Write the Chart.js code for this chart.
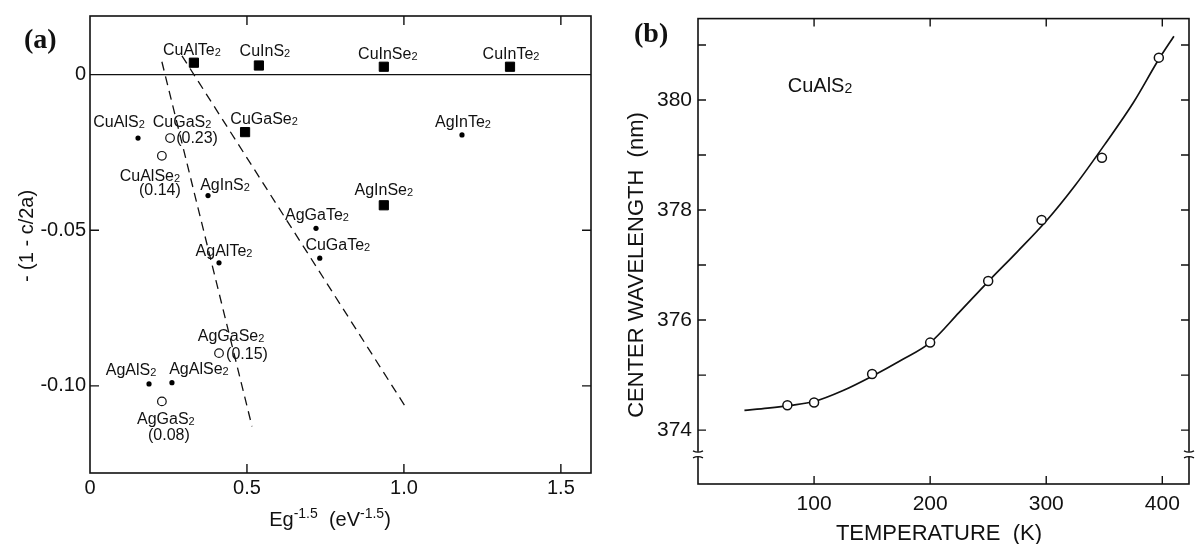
<!DOCTYPE html>
<html lang="en">
<head>
    <meta charset="UTF-8">
    <title>Tetragonal distortion and CuAlS2 wavelength</title>
    <script src="https://cdn.jsdelivr.net/npm/chart.js"></script>
    <style>
        * { box-sizing: border-box; margin: 0; padding: 0; }
        html, body { width: 1195px; height: 544px; overflow: hidden; background: #fff; }
        .panel { position: absolute; top: 0; height: 544px; }
        #panelA { left: 0; width: 600px; }
        #panelB { left: 600px; width: 595px; }
    </style>
</head>
<body>

<div class="panel" id="panelA"><canvas id="chartA"></canvas></div>
<div class="panel" id="panelB"><canvas id="chartB"></canvas></div>

<script>
    // ---- panel (a): -(1 - c/2a) against Eg^-1.5 ----
    const squareNames = ['CuAlTe2', 'CuInS2', 'CuInSe2', 'CuInTe2', 'CuGaSe2', 'AgInSe2'];
    const squareX = [0.331, 0.538, 0.936, 1.338, 0.494, 0.936];
    const squareY = [0.0038, 0.0029, 0.0025, 0.0025, -0.0185, -0.042];

    const dotNames = ['CuAlS2', 'AgInS2', 'AgInTe2', 'AgGaTe2', 'CuGaTe2', 'AgAlTe2', 'AgAlS2', 'AgAlSe2'];
    const dotX = [0.153, 0.376, 1.185, 0.720, 0.732, 0.411, 0.188, 0.261];
    const dotY = [-0.0204, -0.0389, -0.0194, -0.0494, -0.059, -0.0605, -0.0994, -0.099];

    const circleNames = ['CuGaS2', 'CuAlSe2', 'AgGaSe2', 'AgGaS2'];
    const circleX = [0.255, 0.229, 0.411, 0.229];
    const circleY = [-0.0204, -0.0261, -0.0895, -0.105];
    const circleValues = ['0.23', '0.14', '0.15', '0.08'];

    const dashLeftX = [0.229, 0.516];
    const dashLeftY = [0.0041, -0.113];
    const dashRightX = [0.293, 1.003];
    const dashRightY = [0.006, -0.1064];

    const aTickX = [0, 0.5, 1.0, 1.5];
    const aTickXLabels = ['0', '0.5', '1.0', '1.5'];
    const aTickY = [0, -0.05, -0.10];
    const aTickYLabels = ['0', '-0.05', '-0.10'];

    // ---- panel (b): CuAlS2 centre wavelength against temperature ----
    const tempK = [77, 100, 150, 200, 250, 296, 348, 397];
    const wavelength = [374.45, 374.50, 375.02, 375.59, 376.71, 377.82, 378.95, 380.77];
    const fitK = [40, 60, 80, 100, 125, 150, 175, 200, 225, 250, 275, 300, 325, 350, 375, 397, 410];
    const fitNm = [374.36, 374.40, 374.45, 374.52, 374.72, 374.98, 375.27, 375.59, 376.14, 376.70, 377.24, 377.80, 378.45, 379.18, 379.95, 380.74, 381.16];

    const bTickX = [100, 200, 300, 400];
    const bTickY = [374, 376, 378, 380];
    const bMinorY = [375, 377, 379, 381];

    // label placement (pixel offsets from the marker)
    const squareOffsets = [[-2, -13], [6, -15], [4, -14], [1, -14], [19, -14], [0, -16]];
    const dotOffsets = [[-19, -17], [17, -11], [1, -14], [1, -14], [18, -14], [5, -13], [-18, -15], [27, -14]];
    const circleOffsets = [[12, -17], [-12, 19], [12, -18], [4, 17]];
    const valueOffsets = [[27, 1], [-2, 35], [28, 1], [7, 34]];

    const SANS = '"Liberation Sans", Arial, Helvetica, sans-serif';
    const SERIF = '"Liberation Serif", "Times New Roman", serif';
    const INK = '#111';

    Chart.defaults.font.family = SANS;
    Chart.defaults.color = INK;

    const pts = (xs, ys) => xs.map((v, i) => ({ x: v, y: ys[i] }));

    // chemical formula with the trailing digit as a small subscript, centred on (cx, cy)
    function drawFormula(ctx, text, cx, cy, size) {
        const m = text.match(/^(.*?)(\d)$/);
        const base = m ? m[1] : text;
        const sub = m ? m[2] : '';
        const subSize = Math.round(size * 0.68);
        ctx.font = size + 'px ' + SANS;
        const wb = ctx.measureText(base).width;
        ctx.font = subSize + 'px ' + SANS;
        const ws = ctx.measureText(sub).width;
        const x0 = cx - (wb + ws) / 2;
        const baseY = cy + size * 0.36;
        ctx.textAlign = 'left';
        ctx.textBaseline = 'alphabetic';
        ctx.font = size + 'px ' + SANS;
        ctx.fillText(base, x0, baseY);
        ctx.font = subSize + 'px ' + SANS;
        ctx.fillText(sub, x0 + wb, baseY + 1);
    }

    // runs of [text, size, raise] laid out from the centre x
    function drawRuns(ctx, runs, cx, baseline) {
        let w = 0;
        runs.forEach(r => { ctx.font = r[1] + 'px ' + SANS; w += ctx.measureText(r[0]).width; });
        let x = cx - w / 2;
        ctx.textAlign = 'left';
        ctx.textBaseline = 'alphabetic';
        runs.forEach(r => {
            ctx.font = r[1] + 'px ' + SANS;
            ctx.fillText(r[0], x, baseline - r[2]);
            x += ctx.measureText(r[0]).width;
        });
    }

    function drawRotated(ctx, text, cx, cy, size) {
        ctx.save();
        ctx.translate(cx, cy);
        ctx.rotate(-Math.PI / 2);
        ctx.font = size + 'px ' + SANS;
        ctx.textAlign = 'center';
        ctx.textBaseline = 'middle';
        ctx.fillText(text, 0, 0);
        ctx.restore();
    }

    // box, inward ticks, axis break and the text of each panel
    const framePlugin = {
        id: 'frame',
        afterDraw(chart, args, o) {
            const ctx = chart.ctx;
            const a = chart.chartArea;
            const x = chart.scales.x, y = chart.scales.y;
            ctx.save();
            ctx.strokeStyle = INK;
            ctx.fillStyle = INK;

            if (o.zeroLine) {
                const py = y.getPixelForValue(0);
                ctx.lineWidth = 1.3;
                ctx.beginPath();
                ctx.moveTo(a.left, py);
                ctx.lineTo(a.right, py);
                ctx.stroke();
            }

            ctx.lineWidth = 1.6;
            ctx.strokeRect(a.left, a.top, a.right - a.left, a.bottom - a.top);

            ctx.lineWidth = 1.4;
            ctx.beginPath();
            o.xTicks.forEach(v => {
                const px = x.getPixelForValue(v);
                ctx.moveTo(px, a.bottom); ctx.lineTo(px, a.bottom - o.tick);
                ctx.moveTo(px, a.top); ctx.lineTo(px, a.top + o.tick);
            });
            o.yTicks.forEach(v => {
                const py = y.getPixelForValue(v);
                ctx.moveTo(a.left, py); ctx.lineTo(a.left + o.tick, py);
                ctx.moveTo(a.right, py); ctx.lineTo(a.right - o.tick, py);
            });
            ctx.stroke();

            if (o.breakAt !== undefined) {
                const py = y.getPixelForValue(o.breakAt);
                [a.left, a.right].forEach(px => {
                    ctx.fillStyle = '#fff';
                    ctx.fillRect(px - 2, py - 2.5, 4, 5);
                    ctx.fillStyle = INK;
                    ctx.lineWidth = 1.3;
                    ctx.beginPath();
                    ctx.moveTo(px - 5, py - 3.5);
                    ctx.quadraticCurveTo(px, py - 1, px + 5, py - 3.5);
                    ctx.moveTo(px - 5, py + 3.5);
                    ctx.quadraticCurveTo(px, py + 1, px + 5, py + 3.5);
                    ctx.stroke();
                });
            }

            if (o.draw) o.draw(ctx, chart, x, y);
            ctx.restore();
        }
    };

    function labelGroup(ctx, x, y, names, xs, ys, offs) {
        names.forEach((n, i) => {
            drawFormula(ctx, n, x.getPixelForValue(xs[i]) + offs[i][0], y.getPixelForValue(ys[i]) + offs[i][1], 16);
        });
    }

    new Chart(document.getElementById('chartA'), {
        type: 'scatter',
        data: {
            datasets: [
                { data: pts(squareX, squareY), pointStyle: 'rect', pointRadius: 6.5, backgroundColor: '#000', borderColor: '#000', borderWidth: 1 },
                { data: pts(dotX, dotY), pointStyle: 'circle', pointRadius: 2.6, backgroundColor: '#000', borderColor: '#000', borderWidth: 0 },
                { data: pts(circleX, circleY), pointStyle: 'circle', pointRadius: 4.3, backgroundColor: '#fff', borderColor: INK, borderWidth: 1.2 },
                { data: pts(dashLeftX, dashLeftY), showLine: true, pointRadius: 0, borderColor: INK, borderWidth: 1.3, borderDash: [9, 6] },
                { data: pts(dashRightX, dashRightY), showLine: true, pointRadius: 0, borderColor: INK, borderWidth: 1.3, borderDash: [9, 6] }
            ]
        },
        options: {
            responsive: true,
            maintainAspectRatio: false,
            animation: false,
            events: [],
            layout: { padding: { top: 12, right: 9, left: 0, bottom: 0 } },
            plugins: {
                legend: { display: false },
                tooltip: { enabled: false },
                frame: {
                    tick: 9,
                    zeroLine: true,
                    xTicks: aTickX.slice(1),
                    yTicks: aTickY.slice(1),
                    draw(ctx, chart, x, y) {
                        labelGroup(ctx, x, y, squareNames, squareX, squareY, squareOffsets);
                        labelGroup(ctx, x, y, dotNames, dotX, dotY, dotOffsets);
                        labelGroup(ctx, x, y, circleNames, circleX, circleY, circleOffsets);
                        ctx.font = '16px ' + SANS;
                        ctx.textAlign = 'center';
                        ctx.textBaseline = 'middle';
                        circleValues.forEach((v, i) => {
                            ctx.fillText('(' + v + ')', x.getPixelForValue(circleX[i]) + valueOffsets[i][0], y.getPixelForValue(circleY[i]) + valueOffsets[i][1]);
                        });
                        ctx.font = 'bold 28px ' + SERIF;
                        ctx.textAlign = 'left';
                        ctx.textBaseline = 'alphabetic';
                        ctx.fillText('(a)', 24, 48);
                        drawRotated(ctx, '- (1 - c/2a)', 27, 236, 20);
                        drawRuns(ctx, [['Eg', 20, 0], ['-1.5', 14, 8], ['  (eV', 20, 0], ['-1.5', 14, 8], [')', 20, 0]], 330, 526);
                    }
                }
            },
            scales: {
                x: {
                    type: 'linear',
                    min: 0,
                    max: 1.596,
                    grid: { display: false, drawTicks: false },
                    border: { display: false },
                    afterBuildTicks: s => { s.ticks = aTickX.map(v => ({ value: v })); },
                    afterFit: s => { s.height = 71; },
                    ticks: {
                        autoSkip: false,
                        maxRotation: 0,
                        padding: 3,
                        font: { size: 20 },
                        callback: (v, i) => aTickXLabels[i]
                    }
                },
                y: {
                    type: 'linear',
                    min: -0.128,
                    max: 0.0188,
                    grid: { display: false, drawTicks: false },
                    border: { display: false },
                    afterBuildTicks: s => { s.ticks = aTickY.map(v => ({ value: v })); },
                    afterFit: s => { s.width = 90; },
                    ticks: {
                        autoSkip: false,
                        padding: 4,
                        font: { size: 20 },
                        callback: (v, i) => aTickYLabels[i]
                    }
                }
            }
        },
        plugins: [framePlugin]
    });

    new Chart(document.getElementById('chartB'), {
        type: 'scatter',
        data: {
            datasets: [
                { data: pts(tempK, wavelength), pointStyle: 'circle', pointRadius: 4.5, backgroundColor: '#fff', borderColor: INK, borderWidth: 1.5 },
                { data: pts(fitK, fitNm), showLine: true, pointRadius: 0, borderColor: INK, borderWidth: 1.7, cubicInterpolationMode: 'monotone' }
            ]
        },
        options: {
            responsive: true,
            maintainAspectRatio: false,
            animation: false,
            events: [],
            layout: { padding: { top: 9, right: 5, left: 0, bottom: 0 } },
            plugins: {
                legend: { display: false },
                tooltip: { enabled: false },
                frame: {
                    tick: 8,
                    xTicks: bTickX,
                    yTicks: bTickY.concat(bMinorY),
                    breakAt: 373.56,
                    draw(ctx) {
                        ctx.font = 'bold 28px ' + SERIF;
                        ctx.textAlign = 'left';
                        ctx.textBaseline = 'alphabetic';
                        ctx.fillText('(b)', 34, 42);
                        drawFormula(ctx, 'CuAlS2', 220, 85, 20);
                        drawRotated(ctx, 'CENTER WAVELENGTH  (nm)', 37, 265, 22);
                        drawRuns(ctx, [['TEMPERATURE  (K)', 22, 0]], 339, 540);
                    }
                }
            },
            scales: {
                x: {
                    type: 'linear',
                    min: 0,
                    max: 423,
                    grid: { display: false, drawTicks: false },
                    border: { display: false },
                    afterBuildTicks: s => { s.ticks = bTickX.map(v => ({ value: v })); },
                    afterFit: s => { s.height = 60; },
                    ticks: {
                        autoSkip: false,
                        maxRotation: 0,
                        padding: 8,
                        font: { size: 21 }
                    }
                },
                y: {
                    type: 'linear',
                    min: 373.02,
                    max: 381.48,
                    grid: { display: false, drawTicks: false },
                    border: { display: false },
                    afterBuildTicks: s => { s.ticks = bTickY.map(v => ({ value: v })); },
                    afterFit: s => { s.width = 98; },
                    ticks: {
                        autoSkip: false,
                        padding: 6,
                        font: { size: 21 }
                    }
                }
            }
        },
        plugins: [framePlugin]
    });
</script>

</body>
</html>
